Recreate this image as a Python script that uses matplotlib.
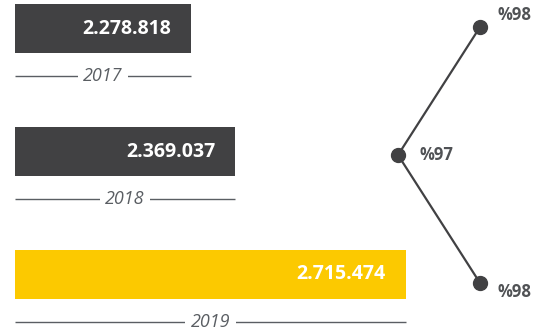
import numpy as np
import matplotlib
matplotlib.use("Agg")
import matplotlib.pyplot as plt

# yearly totals and the matching percentage
years = ["2017", "2018", "2019"]
totals = [2278818, 2369037, 2715474]
total_labels = ["2.278.818", "2.369.037", "2.715.474"]
percents = [98, 97, 98]
percent_labels = ["%98", "%97", "%98"]

dark = "#414143"
yellow = "#FCC900"
grey = "#5a5e63"

plt.rcParams["font.family"] = ["Open Sans", "DejaVu Sans"]

fig = plt.figure(figsize=(5.33, 3.35), dpi=100)

# bars: axis does not start at zero
base = 1921000
ax = fig.add_axes([0, 0, 1, 1])
ax.set_xlim(1890900, 2974000)
ax.set_ylim(2.492, -0.232)
ax.axis("off")

y = np.arange(len(years))
colors = [dark, dark, yellow]
ax.barh(y, np.array(totals) - base, left=base, height=0.4, color=colors)

for i, (v, lab, yr) in enumerate(zip(totals, total_labels, years)):
    ax.annotate(lab, (v, i), xytext=(-20, 0), textcoords="offset pixels",
                ha="right", va="center", color="white",
                fontsize=14, fontweight="bold")
    # year caption with a rule on both sides
    ly = i + 0.385
    ax.plot([base, v], [ly, ly], color=grey, lw=1, solid_capstyle="butt")
    ax.text((base + v) / 2, ly, yr, ha="center", va="center",
            fontsize=13, style="italic", color=grey,
            bbox=dict(facecolor="white", edgecolor="none", pad=4))

# percentage line on its own axes
ax2 = fig.add_axes([0, 0, 1, 1])
ax2.set_xlim(92.146, 98.646)
ax2.set_ylim(2.406, -0.211)
ax2.axis("off")
ax2.plot(percents, y, color=dark, lw=1.6, marker="o", markersize=10,
         markerfacecolor=dark, markeredgecolor=dark)

offsets = [(17, 12), (21, 0), (17, -9)]
for p, i, lab, off in zip(percents, y, percent_labels, offsets):
    ax2.annotate(lab, (p, i), xytext=off, textcoords="offset pixels",
                 ha="left", va="center", color="#505255",
                 fontsize=12, fontweight="bold")

fig.savefig("out.png", dpi=100)
